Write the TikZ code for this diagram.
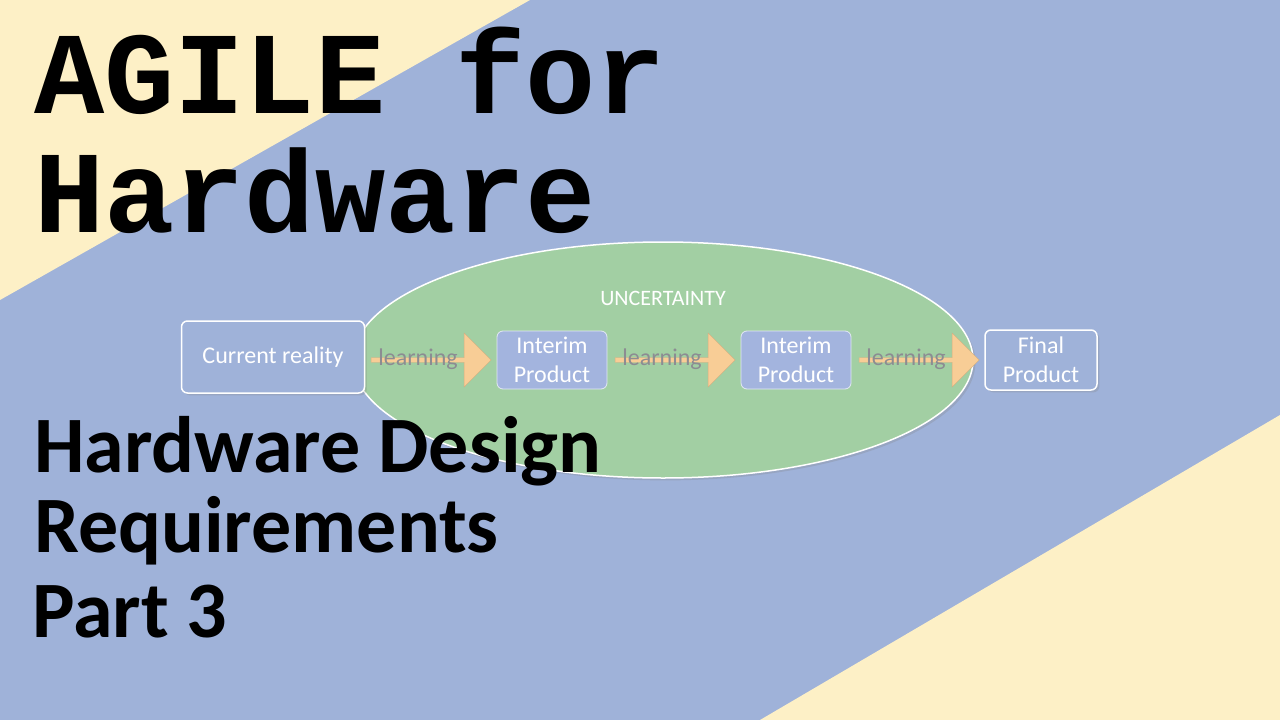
\documentclass[tikz,border=0pt]{standalone}
\usepackage{fontspec}
\setmainfont{Carlito}
\newfontfamily\typefont{Liberation Mono}
\usetikzlibrary{positioning,shapes.arrows,shapes.geometric,shadows}
\definecolor{bgblue}{HTML}{9FB2D9}
\definecolor{bgcream}{HTML}{FDF0C6}
\definecolor{ovgreen}{HTML}{A2CFA3}
\definecolor{boxblue}{HTML}{A3B4DE}
\definecolor{arrowtan}{HTML}{F8CD96}
\definecolor{learngrey}{HTML}{8C8C92}
\begin{document}
\begin{tikzpicture}[x=1pt,y=-1pt]
\tikzstyle{outerbox}=[rectangle, rounded corners=6pt, draw=white, line width=1.5pt, fill=bgblue, text=white, font=\fontsize{24}{29}\selectfont, align=center, drop shadow={opacity=0.25}]
\tikzstyle{innerbox}=[rectangle, rounded corners=6pt, draw=white!70!boxblue, line width=0.8pt, fill=boxblue, text=white, font=\fontsize{24}{29}\selectfont, align=center, minimum width=110pt, minimum height=58pt, inner sep=1pt]
\tikzstyle{learn}=[single arrow, fill=arrowtan, draw=arrowtan!85!black, line width=0.4pt, minimum height=120pt, minimum width=54pt, single arrow head extend=13pt, single arrow tip angle=90, inner sep=1pt, text=learngrey, font=\fontsize{24}{26}\selectfont]
  % background
  \fill[bgblue] (0,0) rectangle (1280,720);
  \fill[bgcream] (0,0) -- (530,0) -- (0,300) -- cycle;
  \fill[bgcream] (1280,415) -- (1280,720) -- (760,720) -- cycle;
  \useasboundingbox (0,0) rectangle (1280,720);
  % title
  \node[anchor=base west, inner sep=0, font=\typefont\bfseries\fontsize{117}{117}\selectfont] (title1) at (34,113) {AGILE for};
  \node[anchor=base west, inner sep=0, font=\typefont\bfseries\fontsize{117}{117}\selectfont] (title2) at (34,232) {Hardware};
  % uncertainty
  \node[ellipse, draw=white, line width=1.5pt, fill=ovgreen, minimum width=620pt, minimum height=236pt, drop shadow={opacity=0.25}] (unc) at (663,360) {};
  \node[text=white, font=\fontsize{22}{24}\selectfont] (unclabel) at (663,298) {UNCERTAINTY};
  \node[outerbox, minimum width=183pt, minimum height=72pt] (now) at (273,357) {Current reality};
  \node[learn] (l1) at (430,360) {};
  \node[learngrey, font=\fontsize{24}{26}\selectfont] at (418,359) {learning};
  \node[innerbox] (p1) at (552,360) {Interim\\Product};
  \node[learn] (l2) at (674,360) {};
  \node[learngrey, font=\fontsize{24}{26}\selectfont] at (662,359) {learning};
  \node[innerbox] (p2) at (796,360) {Interim\\Product};
  \node[learn] (l3) at (918,360) {};
  \node[learngrey, font=\fontsize{24}{26}\selectfont] at (906,359) {learning};
  \node[outerbox, minimum width=112pt, minimum height=60pt, inner sep=1pt] (final) at (1041,360) {Final\\Product};
  % subtitle
  \node[anchor=base west, inner sep=0, font=\bfseries\fontsize{80}{80}\selectfont] (sub1) at (34,472) {Hardware Design};
  \node[anchor=base west, inner sep=0, font=\bfseries\fontsize{80}{80}\selectfont] (sub2) at (34,552) {Requirements};
  \node[anchor=base west, inner sep=0, font=\bfseries\fontsize{80}{80}\selectfont] (sub3) at (32,637) {Part 3};
\end{tikzpicture}
\end{document}
